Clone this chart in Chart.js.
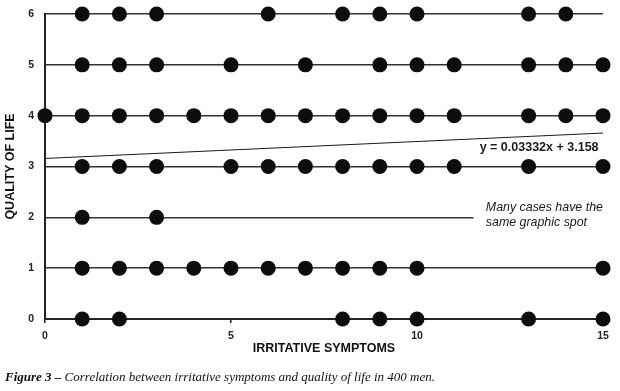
<!DOCTYPE html>
<html><head><meta charset="utf-8">
<script src="https://cdn.jsdelivr.net/npm/chart.js@4/dist/chart.umd.min.js"></script>
<style>
html,body{margin:0;padding:0;background:#fff;}
#wrap{position:relative;width:620px;height:391px;overflow:hidden;}
canvas{position:absolute;left:0;top:0;}
#cap{position:absolute;left:5px;top:369px;font-family:"Liberation Serif","Times New Roman",serif;font-style:italic;font-size:13px;color:#111;white-space:nowrap;}
</style>
</head><body>
<div id="wrap"><canvas id="c" width="620" height="391"></canvas>
<div id="cap"><b>Figure 3 –</b> Correlation between irritative symptoms and quality of life in 400 men.</div></div>
<script>
// Irritative symptom scores (x) observed at each quality-of-life level (y)
const qol0 = [1, 2, 8, 9, 10, 13, 15];
const qol1 = [1, 2, 3, 4, 5, 6, 7, 8, 9, 10, 15];
const qol2 = [1, 3];
const qol3 = [1, 2, 3, 5, 6, 7, 8, 9, 10, 11, 13, 15];
const qol4 = [0, 1, 2, 3, 4, 5, 6, 7, 8, 9, 10, 11, 13, 14, 15];
const qol5 = [1, 2, 3, 5, 7, 9, 10, 11, 13, 14, 15];
const qol6 = [1, 2, 3, 6, 8, 9, 10, 13, 14];
const qolRows = [qol0, qol1, qol2, qol3, qol4, qol5, qol6];
const xTicks = [0, 5, 10, 15];
const yTicks = [0, 1, 2, 3, 4, 5, 6];
const slope = 0.03332, intercept = 3.158;
const trendX = [0, 15];
const eqLabel = 'y = 0.03332x + 3.158';
const noteLines = ['Many cases have the', 'same graphic spot'];

const points = [];
qolRows.forEach((row, q) => row.forEach(x => points.push({x: x, y: q})));
const trend = trendX.map(x => ({x: x, y: slope * x + intercept}));

const notes = {
  id: 'notes',
  afterDatasetsDraw(chart) {
    const {ctx, scales: {x, y}} = chart;
    ctx.save();
    ctx.fillStyle = '#1a1a1a';
    ctx.textBaseline = 'middle';
    ctx.font = 'bold 12.5px "Liberation Sans", Arial, sans-serif';
    ctx.textAlign = 'right';
    ctx.fillText(eqLabel, x.getPixelForValue(14.88), y.getPixelForValue(3.37));
    // white note box that hides the end of the y=2 grid line
    const bx = x.getPixelForValue(11.52), by1 = y.getPixelForValue(2.38), by2 = y.getPixelForValue(1.72);
    ctx.fillStyle = '#fff';
    ctx.fillRect(bx, by1, chart.width - bx, by2 - by1);
    ctx.fillStyle = '#1a1a1a';
    ctx.font = 'italic 12.4px "Liberation Sans", Arial, sans-serif';
    ctx.textAlign = 'left';
    ctx.fillText(noteLines[0], x.getPixelForValue(11.85), y.getPixelForValue(2.2));
    ctx.fillText(noteLines[1], x.getPixelForValue(11.85), y.getPixelForValue(1.9));
    ctx.restore();
  }
};

new Chart(document.getElementById('c'), {
  type: 'scatter',
  data: {
    datasets: [
      {data: points, backgroundColor: '#0d0d0d', borderColor: '#0d0d0d', pointRadius: 7.5, pointHoverRadius: 7.5, borderWidth: 0, clip: false, order: 1},
      {type: 'line', data: trend, borderColor: '#1a1a1a', borderWidth: 1, pointRadius: 0, fill: false, clip: false, order: 2}
    ]
  },
  options: {
    responsive: false, animation: false, devicePixelRatio: 1,
    layout: {padding: {left: 0, top: 14, right: 17, bottom: 33}},
    plugins: {legend: {display: false}, tooltip: {enabled: false}},
    scales: {
      x: {
        type: 'linear', min: 0, max: 15,
        afterBuildTicks: s => { s.ticks = xTicks.map(v => ({value: v})); },
        afterFit: s => { s.height = 39; },
        border: {color: '#222', width: 2},
        grid: {drawOnChartArea: false, drawTicks: true, tickLength: 4, color: '#222', lineWidth: 1.5},
        ticks: {color: '#222', padding: 7, font: {family: '"Liberation Sans", Arial, sans-serif', size: 10.5, weight: 'bold'}},
        title: {display: true, text: 'IRRITATIVE SYMPTOMS', color: '#111', padding: {top: 2, bottom: 2}, font: {family: '"Liberation Sans", Arial, sans-serif', size: 12.5, weight: 'bold'}}
      },
      y: {
        type: 'linear', min: 0, max: 6,
        afterBuildTicks: s => { s.ticks = yTicks.map(v => ({value: v})); },
        afterFit: s => { s.width = 45; s.paddingTop = 0; s.paddingBottom = 0; },
        border: {color: '#222', width: 2},
        grid: {drawOnChartArea: true, drawTicks: false, color: '#333', lineWidth: 1.6},
        ticks: {color: '#222', padding: 11, font: {family: '"Liberation Sans", Arial, sans-serif', size: 10.5, weight: 'bold'}},
        title: {display: true, text: 'QUALITY OF LIFE', color: '#111', padding: {top: 3, bottom: 4}, font: {family: '"Liberation Sans", Arial, sans-serif', size: 12.5, weight: 'bold'}}
      }
    }
  },
  plugins: [notes]
});
</script>
</body></html>
